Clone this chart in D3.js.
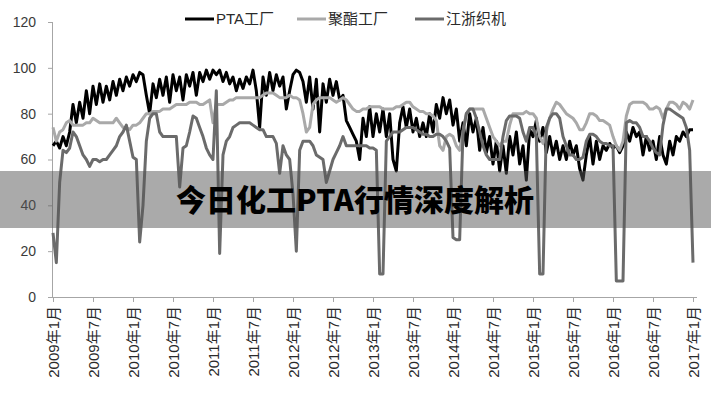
<!DOCTYPE html>
<html>
<head>
<meta charset="utf-8">
<script src="https://cdn.jsdelivr.net/npm/d3@7"></script>
<style>
  html, body { margin: 0; padding: 0; background: #fff; }
  svg { display: block; }
</style>
</head>
<body>
<svg id="chart" width="711" height="400"></svg>
<script>
// ---- DATA (half-month samples, 2009年1月 .. 2017年1月) ----
const tickLabels = ["2009年1月","2009年7月","2010年1月","2010年7月","2011年1月","2011年7月",
  "2012年1月","2012年7月","2013年1月","2013年7月","2014年1月","2014年7月",
  "2015年1月","2015年7月","2016年1月","2016年7月","2017年1月"];
const seriesNames = ["PTA工厂", "聚酯工厂", "江浙织机"];
const yTicks = [0, 20, 40, 60, 80, 100, 120];

const ptaFactory = [66,68,65,70,66,72,84,76,85,78,90,80,92,84,93,85,92,86,94,88,
  95,90,96,92,97,94,98,97,88,80,93,87,95,88,96,85,97,90,96,86,
  97,92,98,88,98,94,99,95,99,97,99,94,98,93,96,90,95,91,96,93,
  99,90,74,96,88,98,90,97,92,96,82,90,97,99,98,94,85,96,82,95,
  72,93,85,95,88,94,86,88,77,74,71,68,60,78,70,83,70,80,72,82,
  70,80,60,55,76,83,74,82,72,78,70,76,70,80,72,84,78,87,80,86,
  75,82,68,76,66,80,72,78,64,74,63,70,58,68,55,66,54,70,62,72,
  58,66,51,73,70,77,68,74,63,70,62,68,60,66,60,68,62,66,56,51,
  62,70,58,68,60,66,64,67,65,66,63,66,72,68,74,70,72,62,70,64,
  68,60,70,62,58,68,62,70,68,72,70,73,73];

const polyesterFactory = [74,68,72,73,76,77,75,75,75,75,76,76,78,77,76,76,76,76,76,78,
  76,74,74,73,75,75,76,78,80,80,81,81,81,82,82,82,83,84,84,84,
  84,85,85,85,84,84,85,86,76,84,84,84,85,86,86,87,87,87,87,87,
  87,87,87,88,89,89,89,88,87,87,87,88,87,87,86,80,72,74,84,86,
  87,87,87,87,86,85,86,87,86,84,82,81,81,82,82,83,83,83,83,82,
  82,82,82,83,83,84,85,85,83,82,81,81,80,80,79,77,66,64,70,71,
  70,66,64,72,80,82,82,82,82,82,78,74,70,68,66,68,68,75,80,80,
  80,80,81,80,80,78,70,67,72,78,82,85,84,82,80,79,78,76,73,73,
  76,80,80,79,77,77,76,75,70,66,64,68,79,84,85,85,85,85,84,82,
  82,83,82,78,82,85,85,84,82,85,84,82,86];

const jiangzheLooms = [28,15,50,64,63,65,72,70,66,62,60,57,60,60,59,60,60,62,64,66,
  70,72,75,68,61,60,24,40,68,78,80,80,72,70,70,70,70,70,48,65,
  66,72,79,78,74,70,65,62,60,90,19,62,68,70,74,75,76,76,76,76,
  75,74,73,73,70,70,70,67,54,66,62,60,45,20,64,68,68,68,66,62,
  61,60,50,55,60,63,66,70,66,66,66,66,66,66,66,65,65,64,10,10,
  68,70,72,72,72,73,74,74,74,73,72,71,71,70,70,71,71,70,68,65,
  26,25,25,72,80,82,82,78,72,66,62,60,60,60,60,70,77,79,79,79,
  78,72,68,74,74,70,10,10,74,78,80,80,78,70,66,62,62,60,60,61,
  68,71,71,70,68,67,67,66,66,7,7,7,76,77,76,76,74,70,70,68,
  65,63,62,75,82,82,81,80,79,78,74,64,15];

const seriesData = [ptaFactory, polyesterFactory, jiangzheLooms];
const seriesColors = ["#000000", "#a9a9a9", "#6b6b6b"];
const bannerTitle = "今日化工PTA行情深度解析";

// ---- CHART ----
const svg = d3.select("#chart");
const nPts = ptaFactory.length;
const x = d3.scaleLinear().domain([0, nPts - 1]).range([53, 693]);
const y = d3.scaleLinear().domain([0, 120]).range([297, 22]);
const axisColor = "#a6a6a6";
const font = "'Liberation Sans', Arial, 'Noto Sans CJK SC', sans-serif";

// Y axis
const yAxis = svg.append("g").attr("transform", "translate(53,0)")
  .call(d3.axisLeft(y).tickValues(yTicks).tickSize(5).tickPadding(12));
yAxis.select(".domain").attr("stroke", axisColor).attr("d", `M-0.5,${y(120)}V${y(0)}`);
yAxis.selectAll(".tick line").attr("stroke", axisColor);
yAxis.selectAll(".tick text").attr("fill", "#3a3a3a").style("font-family", font).style("font-size", "14px");

// X axis
const tickIdx = tickLabels.map((_, i) => i * 12);
const xAxis = svg.append("g").attr("transform", "translate(0,297)")
  .call(d3.axisBottom(x).tickValues(tickIdx).tickFormat((d, i) => tickLabels[i]).tickSize(5).tickSizeOuter(0));
xAxis.select(".domain").attr("stroke", axisColor).attr("d", `M53,0.5H697`);
xAxis.selectAll(".tick line").attr("stroke", axisColor);
xAxis.selectAll(".tick text")
  .attr("fill", "#2a2a2a")
  .style("font-family", font).style("font-size", "15px")
  .attr("text-anchor", "end")
  .attr("transform", "rotate(-90)")
  .attr("x", -9).attr("y", 0).attr("dy", "0.35em");

// Lines
const line = d3.line().x((d, i) => x(i)).y(d => y(d)).curve(d3.curveLinear);
[0, 1, 2].forEach(k => {
  svg.append("path")
    .datum(seriesData[k])
    .attr("fill", "none")
    .attr("stroke", seriesColors[k])
    .attr("stroke-width", 3)
    .attr("stroke-linejoin", "round")
    .attr("d", line);
});

// Legend
const legendX = [185, 297, 415];
const legend = svg.append("g");
seriesNames.forEach((name, k) => {
  const g = legend.append("g").attr("transform", `translate(${legendX[k]},19)`);
  g.append("line").attr("x1", 0).attr("x2", 29).attr("y1", 0).attr("y2", 0)
    .attr("stroke", seriesColors[k]).attr("stroke-width", 3);
  g.append("text").attr("x", 31).attr("y", 0).attr("dy", "0.35em")
    .attr("fill", "#2a2a2a")
    .style("font-family", font).style("font-size", "15px")
    .text(name);
});

// Banner overlay
svg.append("rect").attr("x", 0).attr("y", 171).attr("width", 711).attr("height", 57)
  .attr("fill", "rgb(85,85,85)").attr("fill-opacity", 0.5);
svg.append("text")
  .attr("x", 355).attr("y", 200).attr("dy", "0.36em")
  .attr("text-anchor", "middle")
  .attr("fill", "#000")
  .style("font-family", "'Noto Sans CJK SC', sans-serif")
  .style("font-weight", 900)
  .style("font-size", "30px")
  .text(bannerTitle);
</script>
</body>
</html>
